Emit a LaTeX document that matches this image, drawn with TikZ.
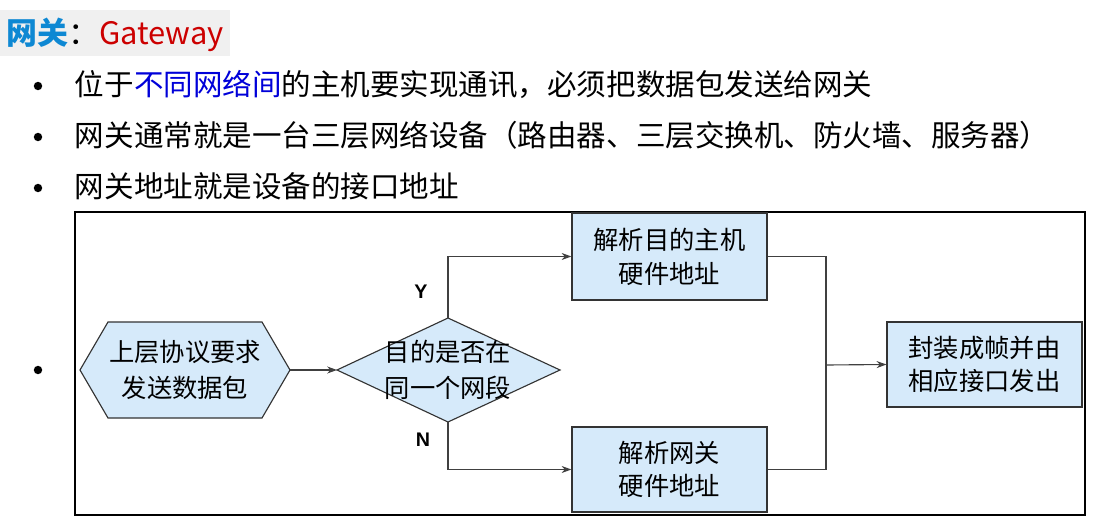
\documentclass[tikz,border=0pt]{standalone}
\usepackage{fontspec}
\setmainfont{Liberation Sans}
\newfontfamily\cjk{Noto Sans CJK SC}
\usetikzlibrary{shapes.geometric,arrows.meta}
\definecolor{boxblue}{RGB}{214,234,250}
\begin{document}
\begin{tikzpicture}[x=0.025cm,y=-0.025cm,
  fl/.style={draw=black!80,fill=boxblue,line width=0.8pt,align=center,font=\cjk\fontsize{18}{24}\selectfont,inner sep=0pt},
  conn/.style={draw=black!75,line width=0.8pt},
  arr/.style={conn,-{Stealth[length=7pt,width=5pt]}},
  bt/.style={anchor=west,font=\cjk\fontsize{21}{25}\selectfont},
  dot/.style={circle,fill=black,inner sep=0pt,minimum size=6pt}]
\useasboundingbox (0,0) rectangle (1094,519);
\fill[white] (0,0) rectangle (1094,519);
\fill[black!6] (0,10) rectangle (230,56);
\node[anchor=west,inner sep=0pt] (title) at (6,35) {\cjk\fontsize{22}{26}\selectfont\textbf{\color{cyan!70!blue}网关}\color{black}：\color{red!80!black}Gateway};
\node[dot] (d1) at (38,86) {};
\node[dot] (d2) at (38,137) {};
\node[dot] (d3) at (38,188) {};
\node[dot] (d4) at (38,370) {};
\node[bt] (t1) at (70,84) {位于\textcolor{blue!85!black}{不同网络间}的主机要实现通讯，必须把数据包发送给网关};
\node[bt] (t2) at (70,135) {网关通常就是一台三层网络设备（路由器、三层交换机、防火墙、服务器）};
\node[bt] (t3) at (70,186) {网关地址就是设备的接口地址};
\draw[line width=1.2pt] (75,212) rectangle (1085,515);
\draw[fl] (80,370) -- (108,322) -- (262,322) -- (290,370) -- (262,418) -- (108,418) -- cycle;
\node[align=center,font=\cjk\fontsize{18}{26}\selectfont] (hex) at (185,370) {上层协议要求\\发送数据包};
\coordinate (hexr) at (290,370);
\draw[fl] (337,370) -- (448,318) -- (560,370) -- (448,422) -- cycle;
\node[align=center,font=\cjk\fontsize{18}{26}\selectfont] (dia) at (448,370) {目的是否在\\同一个网段};
\coordinate (diat) at (448,318);
\coordinate (diab) at (448,422);
\coordinate (dial) at (337,370);
\node[fl,minimum width=195*0.025cm,minimum height=87*0.025cm] (top) at (669.5,256.5) {解析目的主机\\硬件地址};
\node[fl,minimum width=195*0.025cm,minimum height=85*0.025cm] (bot) at (669.5,469.5) {解析网关\\硬件地址};
\node[fl,minimum width=195*0.025cm,minimum height=85*0.025cm] (right) at (984.5,364.5) {封装成帧并由\\相应接口发出};
\draw[arr] (hexr) -- (dial);
\draw[arr] (diat) |- (top.west);
\draw[arr] (diab) |- (bot.west);
\node[font=\bfseries\fontsize{14}{16}\selectfont] (Y) at (421,292) {Y};
\node[font=\bfseries\fontsize{14}{16}\selectfont] (N) at (423,440) {N};
\coordinate (j) at (826,365);
\draw[conn] (top.east) -| (826,469.5) -- (bot.east);
\draw[arr] (j) -- (right.west);
\end{tikzpicture}
\end{document}
